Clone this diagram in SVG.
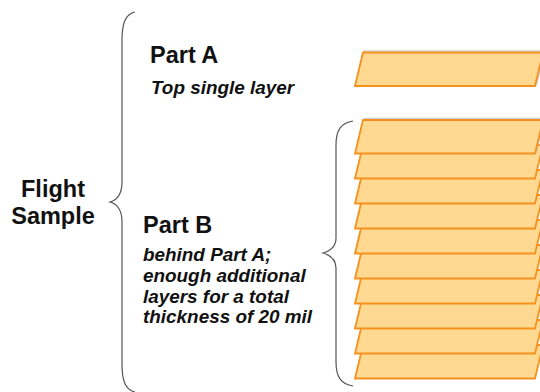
<svg xmlns="http://www.w3.org/2000/svg" width="540" height="392" viewBox="0 0 540 392">
<defs>
<style>
.layer{fill:#FFD991;stroke:#F5911E;stroke-width:1.8;stroke-linejoin:miter}
.shadow{fill:none;stroke:#bbbbbb;stroke-width:1.5;opacity:0.7}
.brace{fill:none;stroke:#555555;stroke-width:1.2}
.title{font-family:"Liberation Sans",Arial,sans-serif;font-weight:bold;font-size:23.5px;fill:#111}
.desc{font-family:"Liberation Sans",Arial,sans-serif;font-weight:bold;font-style:italic;font-size:18.9px;fill:#111}
</style>
<polygon id="para" points="355,0 363,-33.5 543,-33.5 535,0"/>
</defs>
<rect width="540" height="392" fill="#ffffff"/>
<g id="braces">
<path class="brace" d="M135,12 C126,14 122,22 122,40 L122,182 C122,195 117,200 110,202 C117,204 122,209 122,222 L122,364 C122,382 126,390 135,392"/>
<path class="brace" d="M353,121 C341,123 336,130 336,145 L336,238 C336,247 330,251 323,253 C330,255 336,259 336,268 L336,362 C336,377 341,384 353,386"/>
</g>
<g id="flight-sample">
<text class="title" x="53" y="197" text-anchor="middle">Flight</text>
<text class="title" x="53" y="224" text-anchor="middle">Sample</text>
</g>
<g id="part-a">
<text class="title" x="150" y="63">Part A</text>
<text class="desc" x="151" y="94">Top single layer</text>
<use href="#para" class="shadow" x="1.5" y="84.5"/>
<use href="#para" class="layer" x="0" y="86"/>
</g>
<g id="part-b">
<text class="title" x="143" y="233">Part B</text>
<text class="desc" x="143" y="261">behind Part A;</text>
<text class="desc" x="143" y="282">enough additional</text>
<text class="desc" x="143" y="302.5">layers for a total</text>
<text class="desc" x="143" y="323">thickness of 20 mil</text>
<use href="#para" class="layer" y="378.5"/>
<use href="#para" class="layer" y="353.5"/>
<use href="#para" class="layer" y="328.5"/>
<use href="#para" class="layer" y="303.5"/>
<use href="#para" class="layer" y="278.5"/>
<use href="#para" class="layer" y="253.5"/>
<use href="#para" class="layer" y="228.5"/>
<use href="#para" class="layer" y="203.5"/>
<use href="#para" class="layer" y="178.5"/>
<use href="#para" class="shadow" x="1.5" y="152"/>
<use href="#para" class="layer" y="153.5"/>
</g>
</svg>
